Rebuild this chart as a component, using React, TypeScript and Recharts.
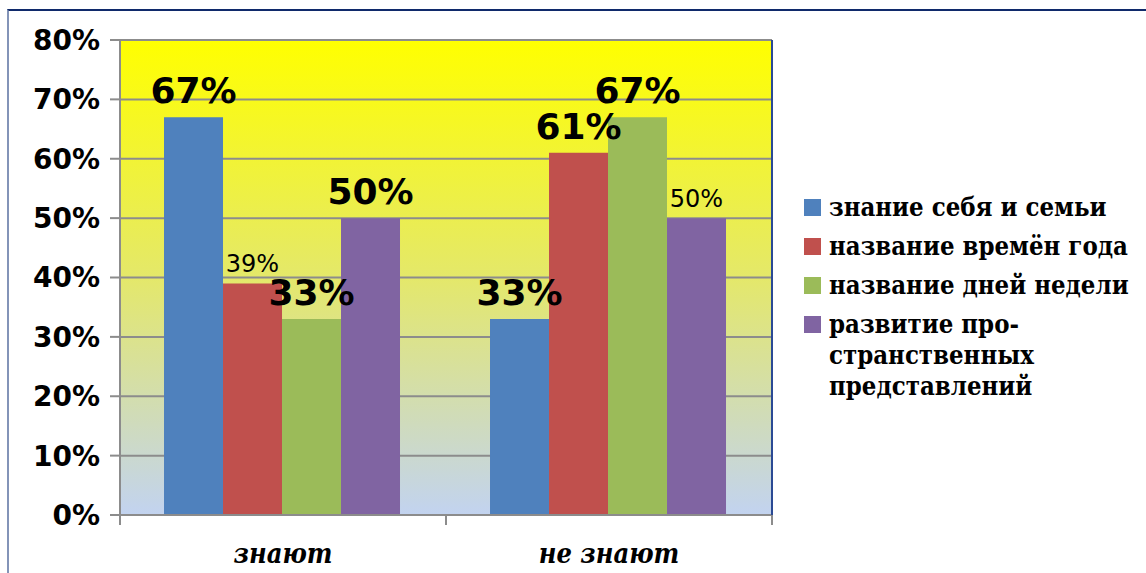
import { Bar, BarChart, CartesianGrid, LabelList, Legend, XAxis, YAxis } from "recharts";

const categories = ["знают", "не знают"];
const selfAndFamily = [67, 33];
const seasons = [39, 61];
const weekdays = [33, 67];
const spatial = [50, 50];
const yTicks = [0, 10, 20, 30, 40, 50, 60, 70, 80];

const seriesNames = [
  "знание себя и семьи",
  "название времён года",
  "название дней недели",
  "развитие про\u00ADстранственных представлений",
];

// which point labels are drawn big (per series, per category)
const bigLabels: Record<string, boolean[]> = {
  s0: [true, true],
  s1: [false, true],
  s2: [true, true],
  s3: [true, false],
};

const C = {
  blue: "#4f81bd",
  red: "#c0504d",
  green: "#9bbb59",
  violet: "#8064a2",
  axis: "#8c8c8c",
};
const colors = [C.blue, C.red, C.green, C.violet];

const data = categories.map((name, i) => ({
  name,
  s0: selfAndFamily[i],
  s1: seasons[i],
  s2: weekdays[i],
  s3: spatial[i],
}));

const SANS = "DejaVu Sans, sans-serif";
const SERIF_C = "'DejaVu Serif Condensed', 'DejaVu Serif', serif";

function makeLabel(key: string) {
  return (props: any) => {
    const { x, y, width, value, index } = props;
    const big = bigLabels[key][index];
    return (
      <text
        x={Number(x) + Number(width) / 2}
        y={Number(y) - (big ? 14 : 11)}
        textAnchor="middle"
        fontFamily={SANS}
        fontWeight={big ? "bold" : "normal"}
        fontSize={big ? 36 : 24}
        fill="#000"
      >
        {`${value}%`}
      </text>
    );
  };
}

function CategoryTick(props: any) {
  const { x, y, payload, index, visibleTicksCount } = props;
  const half = payload?.offset || 163;
  const last = index === (visibleTicksCount ?? 2) - 1;
  return (
    <g>
      <line x1={x - half} x2={x - half} y1={y} y2={y + 10} stroke={C.axis} strokeWidth={2} />
      {last && <line x1={x + half} x2={x + half} y1={y} y2={y + 10} stroke={C.axis} strokeWidth={2} />}
      <text
        x={x}
        y={y + 48}
        textAnchor="middle"
        style={{ fontFamily: SERIF_C, fontStyle: "italic", fontWeight: "bold", fontSize: 27 }}
        fill="#000"
      >
        {payload.value}
      </text>
    </g>
  );
}

function LegendBox() {
  return (
    <div
      style={{
        fontFamily: SERIF_C,
        fontWeight: "bold",
        fontSize: 25.5,
        lineHeight: "31px",
        color: "#000",
      }}
    >
      {seriesNames.map((name, i) => (
        <div key={i} style={{ display: "flex", alignItems: "flex-start", marginBottom: 8 }}>
          <span
            style={{
              display: "inline-block",
              width: 17,
              height: 17,
              marginTop: 7,
              marginRight: 8,
              flex: "none",
              background: colors[i],
            }}
          />
          <span style={{ width: 316, hyphens: "manual" }}>{name}</span>
        </div>
      ))}
    </div>
  );
}

export default function App() {
  return (
    <div style={{ position: "absolute", left: 0, top: 0, width: 1146, height: 573, background: "#fff" }}>
      <div
        style={{
          position: "absolute",
          left: 7,
          top: 9,
          width: 1160,
          height: 600,
          borderTop: "2px solid #102a6b",
          borderLeft: "2px solid #8394b8",
          pointerEvents: "none",
        }}
      />
      <BarChart
        width={1146}
        height={573}
        data={data}
        margin={{ top: 40, right: 373, bottom: 0, left: 0 }}
        barCategoryGap="13.5%"
        barGap={0}
        style={{ position: "absolute", left: 0, top: 0 }}
      >
        <defs>
          <linearGradient id="plotBg" x1="0" y1="0" x2="0" y2="1">
            <stop offset="0%" stopColor="#ffff00" />
            <stop offset="50%" stopColor="#e4e86a" />
            <stop offset="100%" stopColor="#c2d3f0" />
          </linearGradient>
        </defs>
        <CartesianGrid vertical={false} stroke={C.axis} strokeWidth={2} fill="url(#plotBg)" fillOpacity={1} />
        <XAxis
          dataKey="name"
          height={58}
          axisLine={{ stroke: C.axis, strokeWidth: 2 }}
          tickLine={false}
          tickSize={0}
          tickMargin={0}
          tick={<CategoryTick />}
          interval={0}
        />
        <YAxis
          width={120}
          domain={[0, 80]}
          ticks={yTicks}
          tickFormatter={(v: number) => `${v}%`}
          axisLine={{ stroke: C.axis, strokeWidth: 2 }}
          tickLine={{ stroke: C.axis, strokeWidth: 2 }}
          tickSize={10}
          tickMargin={10}
          tick={{ fill: "#000", fontSize: 28, fontWeight: "bold", fontFamily: SANS }}
        />
        <YAxis
          yAxisId="r"
          orientation="right"
          width={1}
          domain={[0, 80]}
          tick={false}
          tickLine={false}
          axisLine={{ stroke: "#2b4a94", strokeWidth: 2 }}
        />
        <Legend
          layout="horizontal"
          verticalAlign="middle"
          align="center"
          width={342}
          wrapperStyle={{ left: 804, top: 192, width: 342 }}
          content={<LegendBox />}
        />
        {["s0", "s1", "s2", "s3"].map((k, i) => (
          <Bar key={k} dataKey={k} name={seriesNames[i]} fill={colors[i]} isAnimationActive={false}>
            <LabelList dataKey={k} content={makeLabel(k)} />
          </Bar>
        ))}
      </BarChart>
    </div>
  );
}
